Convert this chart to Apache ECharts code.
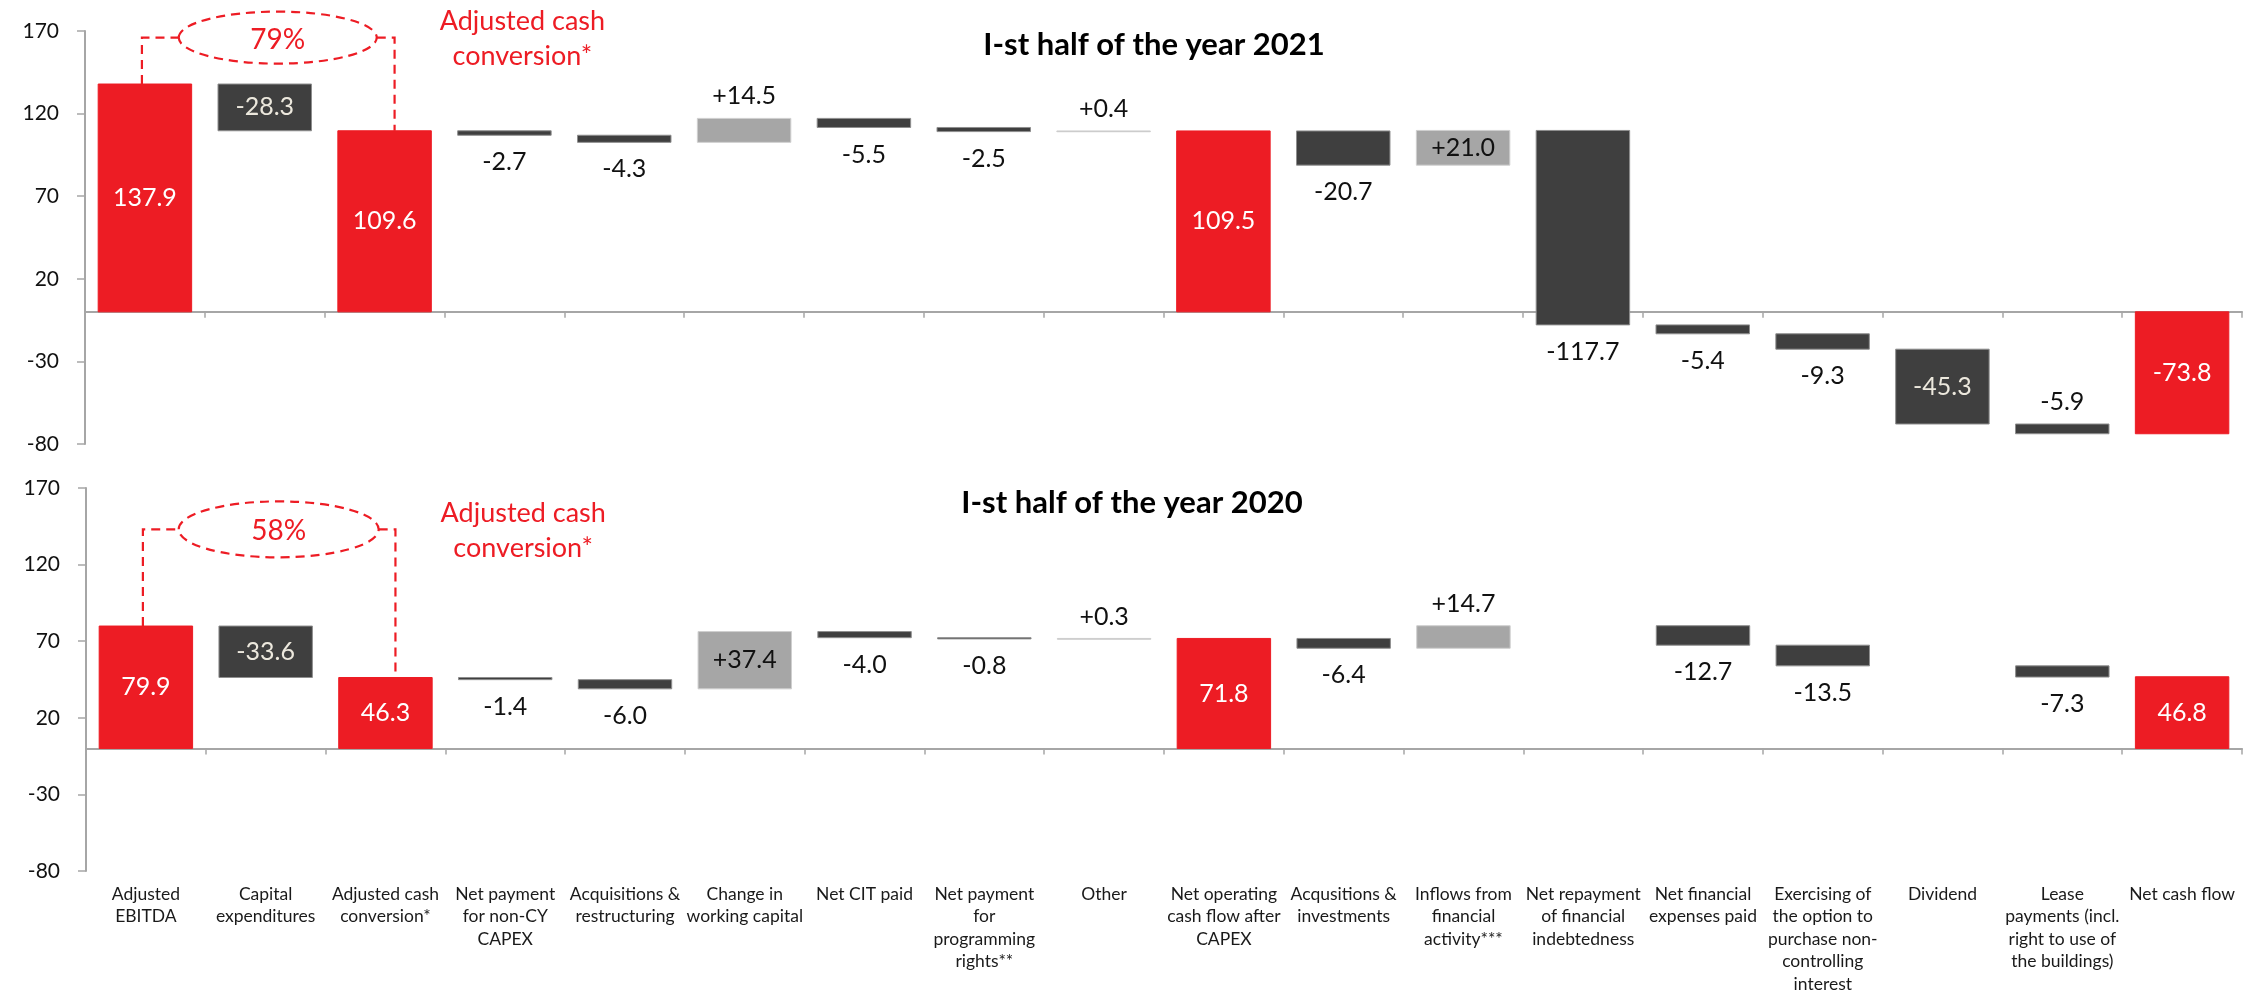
<!DOCTYPE html>
<html>
<head>
<meta charset="utf-8">
<script src="https://cdn.jsdelivr.net/npm/echarts@6/dist/echarts.min.js"></script>
<style>
  html, body { margin: 0; padding: 0; background: #ffffff; }
  #chart { width: 2257px; height: 999px; }
</style>
</head>
<body>
<div id="chart"></div>
<script>
// Cash flow bridge, H1 2021 vs H1 2020 (EUR m)
const categories = [
  'Adjusted\nEBITDA',
  'Capital\nexpenditures',
  'Adjusted cash\nconversion*',
  'Net payment\nfor non-CY\nCAPEX',
  'Acquisitions &\nrestructuring',
  'Change in\nworking capital',
  'Net CIT paid',
  'Net payment\nfor\nprogramming\nrights**',
  'Other',
  'Net operating\ncash flow after\nCAPEX',
  'Acqusitions &\ninvestments',
  'Inflows from\nfinancial\nactivity***',
  'Net repayment\nof financial\nindebtedness',
  'Net financial\nexpenses paid',
  'Exercising of\nthe option to\npurchase non-\ncontrolling\ninterest',
  'Dividend',
  'Lease\npayments (incl.\nright to use of\nthe buildings)',
  'Net cash flow'
];

// Subtotal steps start from zero; all other steps move the running balance.
const totalSteps = [0, 2, 9, 17];

const flow2021 = [137.9, -28.3, 109.6, -2.7, -4.3, 14.5, -5.5, -2.5, 0.4,
                  109.5, -20.7, 21.0, -117.7, -5.4, -9.3, -45.3, -5.9, -73.8];
const flow2020 = [79.9, -33.6, 46.3, -1.4, -6.0, 37.4, -4.0, -0.8, 0.3,
                  71.8, -6.4, 14.7, null, -12.7, -13.5, null, -7.3, 46.8];

const yTicks = [-80, -30, 20, 70, 120, 170];
const panelTitles = ['I-st half of the year 2021', 'I-st half of the year 2020'];
const conversionRates = ['79%', '58%'];
const conversionNote = 'Adjusted cash\nconversion*';

const FONT = 'Lato, "Open Sans", sans-serif';
const RED = '#ED1C24';
const DARK = '#3F3F3F';
const GREY = '#A6A6A6';
const AXIS = '#A6A6A6';

function buildSteps(flow) {
  let run = 0;
  const out = [];
  flow.forEach((v, i) => {
    if (v === null) return;
    const isTotal = totalSteps.includes(i);
    const start = isTotal ? 0 : run;
    const end = isTotal ? v : run + v;
    run = end;
    out.push([i, Math.min(start, end), Math.max(start, end), v, isTotal ? 1 : 0]);
  });
  return out;
}

function renderStep(params, api) {
  const idx = api.value(0);
  const lo = api.value(1);
  const hi = api.value(2);
  const v = api.value(3);
  const isTotal = api.value(4) === 1;
  const pTop = api.coord([idx, hi]);
  const pBot = api.coord([idx, lo]);
  const w = api.size([1, 0])[0] * 0.78;
  const h = Math.max(pBot[1] - pTop[1], 0.8);

  let fill, stroke, pos, color;
  const mag = Math.abs(v);
  if (isTotal) {
    fill = RED; stroke = RED; pos = 'inside'; color = '#ffffff';
  } else {
    fill = v < 0 ? DARK : GREY;
    stroke = v < 0 ? '#8E8E8E' : '#CFCFCF';
    if (mag > 20.8 && mag < 60) {
      pos = 'inside';
      color = v < 0 ? '#ECE8DD' : '#111111';
    } else if (v < 0 && lo < -60) {
      // steps near the floor of the axis carry their label above
      pos = 'top';
      color = '#111111';
    } else {
      pos = v < 0 ? 'bottom' : 'top';
      color = '#111111';
    }
  }
  const text = isTotal ? v.toFixed(1) : (v > 0 ? '+' : '') + v.toFixed(1);

  return {
    type: 'rect',
    shape: { x: pTop[0] - w / 2, y: pTop[1], width: w, height: h },
    style: { fill: fill, stroke: stroke, lineWidth: 1 },
    textContent: {
      style: { text: text, fill: color, fontSize: 25, fontFamily: FONT }
    },
    textConfig: { position: pos, distance: pos === 'bottom' ? 14 : 9 }
  };
}

// Two panels plus a thin strip under the lower panel that carries the category names
const grids = [
  { left: 85, right: 15, top: 31, height: 413, outerBoundsMode: 'none' },
  { left: 86, right: 15, top: 488, height: 383, outerBoundsMode: 'none' },
  { left: 86, right: 15, top: 870, height: 1, outerBoundsMode: 'none' }
];

function xAxisFor(gridIndex) {
  return {
    gridIndex: gridIndex,
    type: 'category',
    data: categories,
    position: 'bottom',
    axisLine: { onZero: true, lineStyle: { color: AXIS, width: 2 } },
    axisTick: { show: true, interval: 0, length: 6, lineStyle: { color: AXIS, width: 1.5 } },
    axisLabel: { show: false }
  };
}

const labelAxis = {
  gridIndex: 2,
  type: 'category',
  data: categories,
  position: 'bottom',
  axisLine: { show: false },
  axisTick: { show: false },
  axisLabel: {
    show: true,
    interval: 0,
    margin: 12,
    fontSize: 17.5,
    lineHeight: 22.5,
    color: '#1a1a1a',
    fontFamily: FONT
  }
};

function yAxisFor(gridIndex) {
  return {
    gridIndex: gridIndex,
    type: 'value',
    min: -80,
    max: 170,
    interval: 50,
    axisLine: { show: true, lineStyle: { color: AXIS, width: 2 } },
    axisTick: { show: true, length: 8, customValues: yTicks, lineStyle: { color: AXIS, width: 1.5 } },
    axisLabel: { customValues: yTicks, fontSize: 21, margin: 26, color: '#111111', fontFamily: FONT },
    splitLine: { show: false }
  };
}

const chart = echarts.init(document.getElementById('chart'), null, { renderer: 'canvas' });

chart.setOption({
  animation: false,
  backgroundColor: '#ffffff',
  grid: grids,
  xAxis: [xAxisFor(0), xAxisFor(1), labelAxis],
  yAxis: [
    yAxisFor(0),
    yAxisFor(1),
    { gridIndex: 2, type: 'value', show: false, min: 0, max: 1 }
  ],
  series: [
    { type: 'custom', xAxisIndex: 0, yAxisIndex: 0, data: buildSteps(flow2021),
      encode: { x: 0, y: [1, 2] }, renderItem: renderStep },
    { type: 'custom', xAxisIndex: 1, yAxisIndex: 1, data: buildSteps(flow2020),
      encode: { x: 0, y: [1, 2] }, renderItem: renderStep }
  ]
});

// Cash conversion callouts and panel titles
const calloutLevel = [166, 143];
const ellipseRadius = [[99, 26], [100, 28]];
const titleCenter = [[1154, 45], [1132, 503]];
const flows = [flow2021, flow2020];

const graphics = [];
[0, 1].forEach(g => {
  const flow = flows[g];
  const pA = chart.convertToPixel({ gridIndex: g }, [0, flow[0]]);
  const pB = chart.convertToPixel({ gridIndex: g }, [2, flow[2]]);
  const lvl = chart.convertToPixel({ gridIndex: g }, [0, calloutLevel[g]])[1];
  const xL = pA[0] - 3;
  const xR = pB[0] + 10;
  const cx = (pA[0] + pB[0]) / 2 + 13;
  const rx = ellipseRadius[g][0];
  const ry = ellipseRadius[g][1];
  const dash = { stroke: RED, lineWidth: 2.2, lineDash: [9, 6], fill: null };

  graphics.push({
    type: 'polyline',
    shape: { points: [[xL, pA[1]], [xL, lvl], [cx - rx, lvl]] },
    style: Object.assign({}, dash), z: 100
  });
  graphics.push({
    type: 'polyline',
    shape: { points: [[cx + rx, lvl], [xR, lvl], [xR, pB[1]]] },
    style: Object.assign({}, dash), z: 100
  });
  graphics.push({
    type: 'ellipse',
    shape: { cx: cx, cy: lvl, rx: rx, ry: ry },
    style: Object.assign({}, dash), z: 100
  });
  graphics.push({
    type: 'text', x: cx, y: lvl + 2, z: 101,
    style: { text: conversionRates[g], fill: RED, fontSize: 28, fontFamily: FONT,
             align: 'center', verticalAlign: 'middle' }
  });
  const noteX = chart.convertToPixel({ gridIndex: g }, [3, 0])[0] + 18;
  graphics.push({
    type: 'text', x: noteX, y: lvl + 1, z: 101,
    style: { text: conversionNote, fill: RED, fontSize: 27, lineHeight: 35, fontFamily: FONT,
             align: 'center', verticalAlign: 'middle' }
  });
  graphics.push({
    type: 'text', x: titleCenter[g][0], y: titleCenter[g][1], z: 101,
    style: { text: panelTitles[g], fill: '#000000', fontSize: 31, fontWeight: 'bold',
             fontFamily: FONT, align: 'center', verticalAlign: 'middle' }
  });
});

chart.setOption({ graphic: graphics });
</script>
</body>
</html>
